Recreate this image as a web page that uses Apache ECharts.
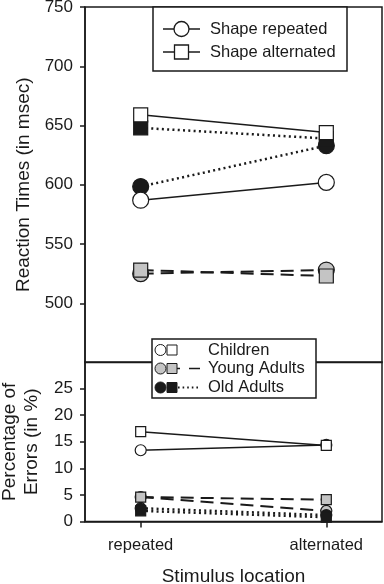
<!DOCTYPE html>
<html>
<head>
<meta charset="utf-8">
<script src="https://cdn.jsdelivr.net/npm/echarts@6/dist/echarts.min.js"></script>
<style>
  html, body { margin: 0; padding: 0; background: #fff; }
  #chart { width: 384px; height: 584px; }
</style>
</head>
<body>
<div id="chart"></div>
<script>
// stimulus location categories (x positions 0 and 1)
const categories = ["repeated", "alternated"];

// reaction times (msec): circles = shape repeated, squares = shape alternated
const rtChildrenRep = [587, 602];
const rtChildrenAlt = [659, 644];
const rtYoungRep = [525, 528];
const rtYoungAlt = [528, 523];
const rtOldRep = [598.5, 633];
const rtOldAlt = [648, 639];

// percentage of errors
const errChildrenRep = [13.4, 14.4];
const errChildrenAlt = [16.9, 14.3];
const errYoungRep = [4.6, 2.0];
const errYoungAlt = [4.6, 4.1];
const errOldRep = [2.5, 1.2];
const errOldAlt = [2.0, 0.8];

// tick labels
const rtTicks = [500, 550, 600, 650, 700, 750];
const errTicks = [0, 5, 10, 15, 20, 25];

const FONT = "Liberation Sans";
const INK = "#1a1a1a";
const GREY = "#c4c4c4";

const toPoints = (arr) => arr.map((v, i) => [i, v]);

// line styles per group
const styles = {
  children: { fill: "#fff", line: { type: "solid", width: 1.5 } },
  young: { fill: GREY, line: { type: [13, 7], width: 2 } },
  old: { fill: INK, line: { type: [2, 3.3], width: 2.5 } },
};

function mk(name, data, group, shape, gridIdx) {
  const s = styles[group];
  return {
    name,
    type: "line",
    xAxisIndex: gridIdx,
    yAxisIndex: gridIdx,
    data: toPoints(data),
    symbol: shape === "circle" ? "circle" : "rect",
    symbolSize: gridIdx === 0 ? (shape === "circle" ? 16 : 14) : (shape === "circle" ? 11 : 10),
    lineStyle: { color: INK, width: s.line.width, type: s.line.type },
    itemStyle: { color: s.fill, borderColor: INK, borderWidth: 1.2 },
    emphasis: { disabled: true },
    animation: false,
  };
}

const chart = echarts.init(document.getElementById("chart"), null, { renderer: "canvas" });

const axisText = { color: INK, fontFamily: FONT, fontSize: 17 };
const nameText = { color: INK, fontFamily: FONT, fontSize: 19 };

// legend boxes drawn as graphics
function legendTop() {
  const els = [
    { type: "rect", shape: { x: 153, y: 7, width: 194, height: 64 },
      style: { fill: "#fff", stroke: INK, lineWidth: 1.5 }, z: 100 },
  ];
  [[29, "circle", "Shape repeated"], [52, "rect", "Shape alternated"]].forEach(([y, sym, label]) => {
    els.push({ type: "line", shape: { x1: 163, y1: y, x2: 200, y2: y },
      style: { stroke: INK, lineWidth: 1.5 }, z: 101 });
    if (sym === "circle") {
      els.push({ type: "circle", shape: { cx: 181.5, cy: y, r: 7.5 },
        style: { fill: "#fff", stroke: INK, lineWidth: 1.3 }, z: 102 });
    } else {
      els.push({ type: "rect", shape: { x: 174.5, y: y - 7, width: 14, height: 14 },
        style: { fill: "#fff", stroke: INK, lineWidth: 1.3 }, z: 102 });
    }
    els.push({ type: "text", x: 210, y: y,
      style: { text: label, fill: INK, font: "16.5px " + FONT, verticalAlign: "middle" }, z: 102 });
  });
  return els;
}

function legendBottom() {
  const els = [
    { type: "rect", shape: { x: 152, y: 339, width: 164, height: 59 },
      style: { fill: "#fff", stroke: INK, lineWidth: 1.5 }, z: 100 },
  ];
  const rows = [
    [350, "#fff", null, "Children"],
    [368.5, GREY, "dash", "Young Adults"],
    [387.5, INK, "dot", "Old Adults"],
  ];
  rows.forEach(([y, fill, ln, label]) => {
    if (ln === "dash") {
      els.push({ type: "line", shape: { x1: 172, y1: y, x2: 180, y2: y },
        style: { stroke: INK, lineWidth: 1.5 }, z: 101 });
      els.push({ type: "line", shape: { x1: 189, y1: y, x2: 200, y2: y },
        style: { stroke: INK, lineWidth: 1.5 }, z: 101 });
    } else if (ln === "dot") {
      els.push({ type: "line", shape: { x1: 178, y1: y, x2: 198, y2: y },
        style: { stroke: INK, lineWidth: 1.8, lineDash: [1.6, 3] }, z: 101 });
    }
    els.push({ type: "circle", shape: { cx: 160.5, cy: y, r: 5.5 },
      style: { fill, stroke: INK, lineWidth: 1 }, z: 102 });
    els.push({ type: "rect", shape: { x: 167, y: y - 5, width: 10, height: 10 },
      style: { fill, stroke: INK, lineWidth: 1 }, z: 102 });
    els.push({ type: "text", x: 208, y: y,
      style: { text: label, fill: INK, font: "16.5px " + FONT, verticalAlign: "middle" }, z: 102 });
  });
  return els;
}

chart.setOption({
  animation: false,
  backgroundColor: "#fff",
  textStyle: { fontFamily: FONT },
  grid: [
    { left: 85, right: 2, top: 7, height: 355.5, show: true, borderColor: INK, borderWidth: 1.5, outerBoundsMode: "none" },
    { left: 85, right: 2, top: 362, height: 159.5, show: true, borderColor: INK, borderWidth: 1.5, outerBoundsMode: "none" },
  ],
  xAxis: [
    { gridIndex: 0, type: "value", min: -0.3, max: 1.3, show: false },
    {
      gridIndex: 1, type: "value", min: -0.3, max: 1.3,
      name: "Stimulus location", nameLocation: "middle", nameGap: 46, nameTextStyle: nameText,
      axisLine: { show: true, onZero: false, lineStyle: { color: INK, width: 1.5 } },
      axisTick: { show: true, customValues: [0, 1], length: 6, lineStyle: { color: INK, width: 1.5 } },
      axisLabel: { customValues: [0, 1], formatter: (v) => categories[v], margin: 15, color: INK, fontFamily: FONT, fontSize: 16.5 },
      splitLine: { show: false },
    },
  ],
  yAxis: [
    {
      gridIndex: 0, type: "value", min: 450, max: 750, interval: 50,
      name: "Reaction Times (in msec)", nameLocation: "middle", nameGap: 52, nameTextStyle: nameText,
      axisLine: { show: true, onZero: false, lineStyle: { color: INK, width: 1.5 } },
      axisTick: { show: true, customValues: rtTicks, length: 5, lineStyle: { color: INK, width: 1.5 } },
      axisLabel: { customValues: rtTicks, margin: 12, ...axisText },
      splitLine: { show: false },
    },
    {
      gridIndex: 1, type: "value", min: 0, max: 30, interval: 5,
      name: "Percentage of\nErrors (in %)", nameLocation: "middle", nameGap: 42,
      nameTextStyle: { ...nameText, lineHeight: 22 },
      axisLine: { show: true, onZero: false, lineStyle: { color: INK, width: 1.5 } },
      axisTick: { show: true, customValues: errTicks, length: 5, lineStyle: { color: INK, width: 1.5 } },
      axisLabel: { customValues: errTicks, margin: 12, ...axisText },
      splitLine: { show: false },
    },
  ],
  series: [
    mk("RT young repeated", rtYoungRep, "young", "circle", 0),
    mk("RT young alternated", rtYoungAlt, "young", "rect", 0),
    mk("RT old repeated", rtOldRep, "old", "circle", 0),
    mk("RT old alternated", rtOldAlt, "old", "rect", 0),
    mk("RT children repeated", rtChildrenRep, "children", "circle", 0),
    mk("RT children alternated", rtChildrenAlt, "children", "rect", 0),
    mk("Err young repeated", errYoungRep, "young", "circle", 1),
    mk("Err young alternated", errYoungAlt, "young", "rect", 1),
    mk("Err old repeated", errOldRep, "old", "circle", 1),
    mk("Err old alternated", errOldAlt, "old", "rect", 1),
    mk("Err children repeated", errChildrenRep, "children", "circle", 1),
    mk("Err children alternated", errChildrenAlt, "children", "rect", 1),
  ],
  graphic: [...legendTop(), ...legendBottom()],
});
</script>
</body>
</html>
